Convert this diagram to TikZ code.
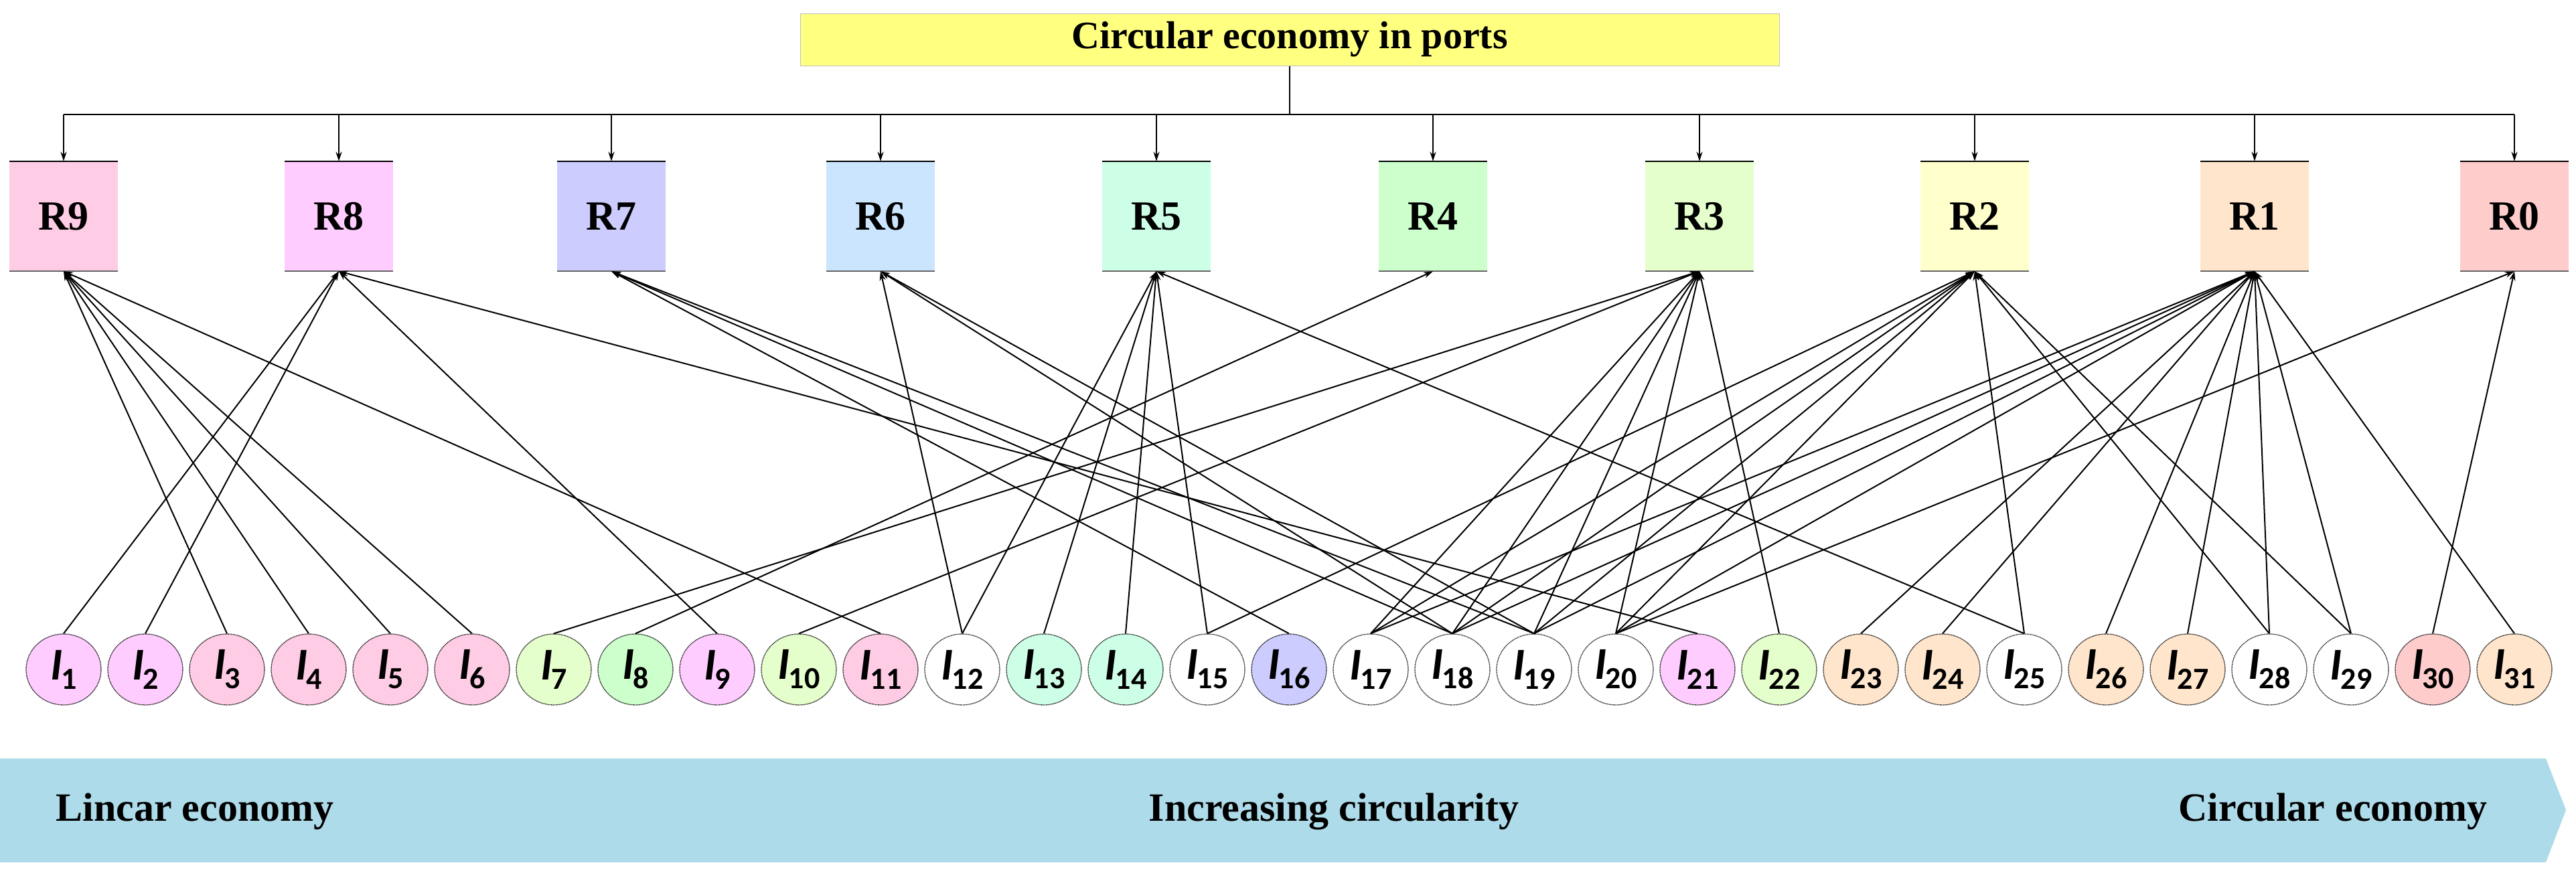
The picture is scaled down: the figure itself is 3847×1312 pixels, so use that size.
\documentclass[tikz,border=0pt]{standalone}
\usepackage{fontspec}
\setmainfont{Liberation Serif}
\newfontfamily\cfont{Carlito}
\usetikzlibrary{arrows.meta,shapes.geometric}
\definecolor{c9}{RGB}{255,204,229}
\definecolor{c8}{RGB}{255,204,255}
\definecolor{c7}{RGB}{204,204,255}
\definecolor{c6}{RGB}{204,229,255}
\definecolor{c5}{RGB}{204,255,229}
\definecolor{c4}{RGB}{204,255,204}
\definecolor{c3}{RGB}{229,255,204}
\definecolor{c2}{RGB}{255,255,204}
\definecolor{c1}{RGB}{255,229,204}
\definecolor{c0}{RGB}{255,204,204}
\definecolor{ttl}{RGB}{255,255,128}
\definecolor{band}{RGB}{174,219,234}
\begin{document}
\begin{tikzpicture}[x=1pt,y=-1pt,
  rbox/.style={rectangle,minimum width=162pt,minimum height=164pt,inner sep=0pt,font=\fontsize{62}{62}\selectfont\bfseries},
  inode/.style={ellipse,draw,densely dotted,line width=1.3pt,minimum width=112pt,minimum height=106pt,inner sep=0pt},
  tip/.style={-{Stealth[length=14pt,width=9pt]}},
  edge/.style={tip,line width=2pt},
  btxt/.style={font=\fontsize{60}{60}\selectfont\bfseries}]
\useasboundingbox (0,0) rectangle (3847,1312);
\node[rectangle,fill=ttl,draw=gray!50,line width=1pt,minimum width=1462pt,minimum height=78pt,font=\fontsize{58}{58}\selectfont\bfseries] (T) at (1926,59) {Circular economy in ports};
\foreach \n/\x/\c in {9/95/c9,8/506/c8,7/913/c7,6/1315/c6,5/1727/c5,4/2140/c4,3/2538/c3,2/2949/c2,1/3367/c1,0/3755/c0}{
  \node[rbox,fill=\c] (R\n) at (\x,323) {R\n};
  \draw[line width=2.5pt] (R\n.north west) -- (R\n.north east);
  \draw[line width=2.5pt,gray!80!black] (R\n.south west) -- (R\n.south east);
}
\coordinate (J) at (1926,171);
\coordinate (JL) at (95,171);
\coordinate (JR) at (3755,171);
\draw[line width=2.5pt] (T.south) -- (J);
\draw[line width=2.5pt] (JL) -- (JR);
\foreach \n in {9,8,7,6,5,4,3,2,1,0}{
  \draw[tip,line width=2.5pt] (R\n.north |- J) -- (R\n.north);
}
\foreach \k/\c in {1/c8,2/c8,3/c9,4/c9,5/c9,6/c9,7/c3,8/c4,9/c8,10/c3,11/c9,12/white,13/c5,14/c5,15/white,16/c7,17/white,18/white,19/white,20/white,21/c8,22/c3,23/c1,24/c1,25/white,26/c1,27/c1,28/white,29/white,30/c0,31/c1}{
  \node[inode,fill=\c] (I\k) at ({95+122*(\k-1)},1000) {\cfont\bfseries\fontsize{68}{68}\selectfont\itshape I\kern-2pt\raisebox{-14pt}{\upshape\fontsize{46}{46}\selectfont\k}};
}
\foreach \i/\r in {1/8,2/8,9/8,21/8,3/9,4/9,5/9,6/9,11/9,16/7,18/7,19/7,12/6,18/6,19/6,12/5,13/5,14/5,15/5,25/5,8/4,7/3,10/3,17/3,18/3,19/3,20/3,22/3,15/2,17/2,18/2,19/2,20/2,25/2,28/2,29/2,17/1,18/1,19/1,20/1,23/1,24/1,26/1,27/1,28/1,29/1,31/1,20/0,30/0}{
  \draw[edge] (I\i.north) -- (R\r.south);
}
\fill[band] (0,1133) -- (3802,1133) -- (3832,1210) -- (3802,1288) -- (0,1288) -- cycle;
\node[btxt,anchor=west] (L1) at (80,1212) {Lincar economy};
\node[btxt] (L2) at (1992,1212) {Increasing circularity};
\node[btxt,anchor=west] (L3) at (3250,1212) {Circular economy};
\end{tikzpicture}
\end{document}
